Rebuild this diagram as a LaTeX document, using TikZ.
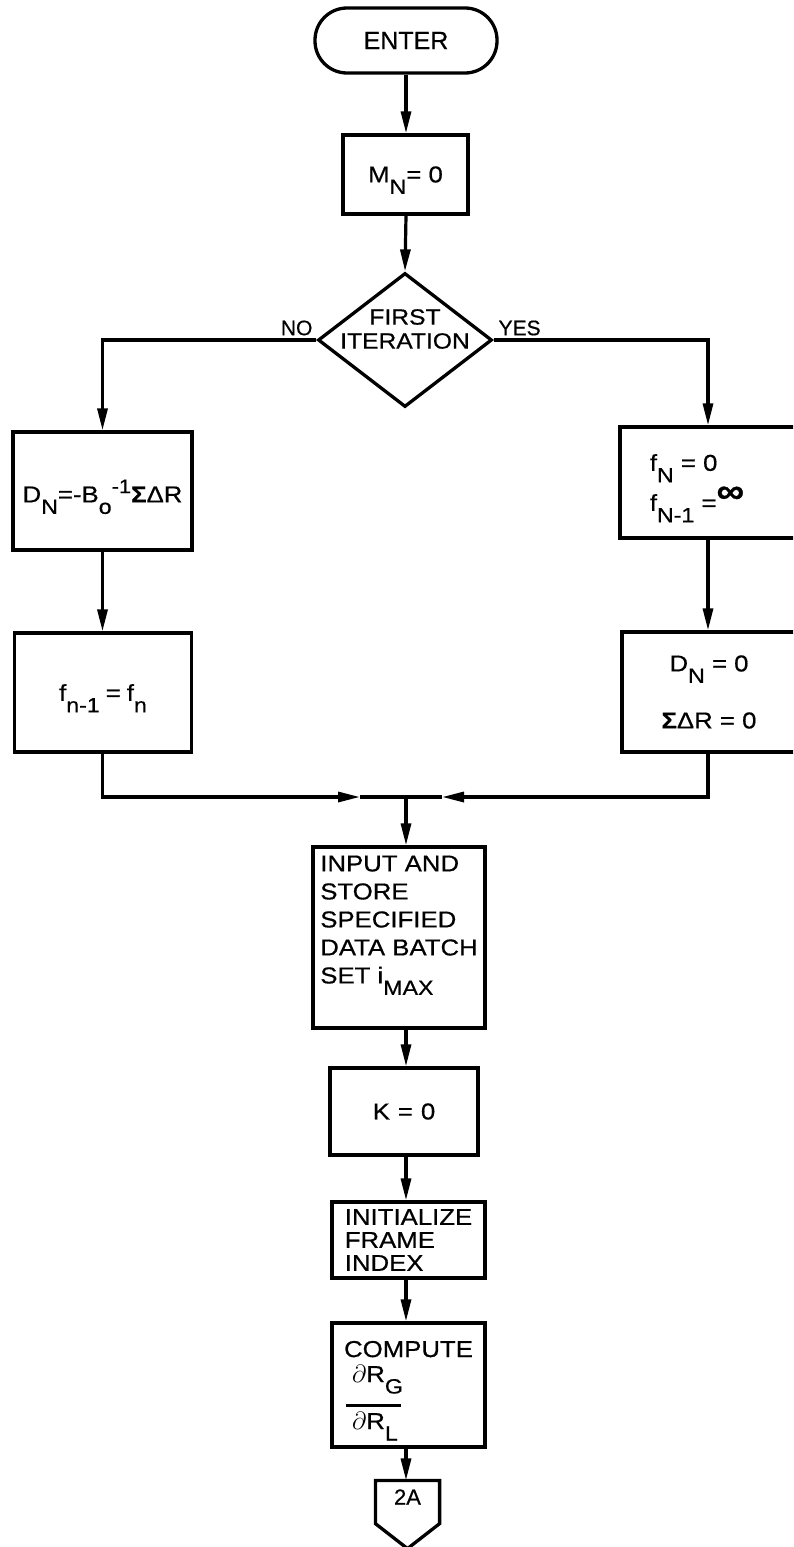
\documentclass[tikz,border=0pt]{standalone}
\usepackage{fontspec}
\usepackage{graphicx}
\setmainfont{Liberation Sans}
\newfontfamily\fa[FakeBold=0.6]{Liberation Sans}
\newfontfamily\fb[FakeStretch=1.12,FakeBold=0.6]{Liberation Sans}
\usetikzlibrary{arrows.meta,shapes.geometric}
\newcommand\dnsc[1]{\raisebox{-0.5em}[0pt][0pt]{\scalebox{0.9}{#1}}}
\newcommand\upsc[1]{\raisebox{0.4em}{\scalebox{0.85}{#1}}}
\begin{document}
\begin{tikzpicture}[x=1pt,y=-1pt,
  line width=3.2pt,
  box/.style={draw, line width=3.3pt, inner sep=0pt, align=center, font=\fb\fontsize{23}{26}\selectfont},
  arr/.style={-{Triangle[length=22pt,width=10pt]}},
  lab/.style={font=\fa\fontsize{21}{24}\selectfont, inner sep=0pt}]
\clip (0,0) rectangle (793,1547);
% nodes
\node[draw, line width=3.3pt, rounded corners=32pt, minimum width=182pt, minimum height=65pt, inner sep=0pt, font=\fa\fontsize{25}{28}\selectfont] (enter) at (406,40.5) {ENTER};
\node[box, minimum width=125pt, minimum height=79pt, font=\fb\fontsize{23}{26}\selectfont] (mn) at (405.5,174.5) {M\dnsc{N}= 0};
\node[draw, diamond, line width=3.3pt, shape aspect=1.3, minimum width=174pt, minimum height=134pt, inner sep=0pt] (dia) at (405,340) {};
\node[lab, font=\fb\fontsize{22}{24}\selectfont, align=center] (diat) at (405,329) {FIRST\\ITERATION};
\node[lab, anchor=south east] (no) at (314,337) {NO};
\node[lab, anchor=south west] (yes) at (497,337) {YES};
\node[box, minimum width=179pt, minimum height=118pt] (l1) at (102.5,491) {D\dnsc{N}=-B\dnsc{o}\upsc{-1}\textbf{Σ}ΔR};
\node[box, minimum width=177pt, minimum height=119pt] (l2) at (103,692.5) {f\dnsc{n-1}\hspace{6pt}=\hspace{6pt}f\dnsc{n}};
\node[box, minimum width=176pt, minimum height=111pt, align=left] (r1) at (708,482.5) {f\dnsc{N} = 0\\[14pt]f\dnsc{N-1} =\raisebox{0.35em}{\scalebox{1.5}{\textbf{∞}}}\hspace*{22pt}};
\node[box, minimum width=174pt, minimum height=120pt] (r2) at (709,692) {D\dnsc{N} = 0\\[31pt]\textbf{Σ}ΔR = 0};
\node[box, minimum width=172pt, minimum height=181pt, align=left, font=\fb\fontsize{23}{28}\selectfont] (inp) at (399,937.5) {INPUT AND\\STORE\\SPECIFIED\\DATA BATCH\\SET i\dnsc{MAX}\\[8pt]};
\node[box, minimum width=148pt, minimum height=87pt] (k) at (404,1111.5) {K\hspace{8pt}=\hspace{8pt}0};
\node[box, minimum width=153pt, minimum height=76pt, align=left, font=\fb\fontsize{23}{23}\selectfont] (init) at (408.5,1240) {INITIALIZE\\FRAME\\INDEX};
\node[box, minimum width=153pt, minimum height=124pt, align=left, font=\fb\fontsize{23}{25}\selectfont] (comp) at (408.5,1385) {COMPUTE\\\hspace*{8pt}$\partial$R\dnsc{G}\\[22pt]\hspace*{2pt}\rlap{\rule[22pt]{55pt}{3pt}}\hspace*{6pt}$\partial$R\dnsc{L}};
\node[lab, font=\fa\fontsize{22}{24}\selectfont, minimum width=61pt, minimum height=30pt] (con) at (407.5,1497) {2A};
\draw[line width=3.3pt] (con.north west) -- (con.north east) -- ([yshift=-10pt]con.south east) -- ([yshift=-35pt]con.south) -- ([yshift=-10pt]con.south west) -- cycle;
% connectors
\coordinate (mj) at (406,797);
\coordinate (ml) at (360,797);
\coordinate (mr) at (442,797);
\draw[arr] (enter.south -| mj) -- (mj |- mn.north);
\draw[arr] (mn.south -| mj) -- (dia.north);
\draw[arr] (dia.west) -- (dia.west -| l1) -- (l1.north);
\draw[arr] (dia.east) -- (dia.east -| r1) -- (r1.north);
\draw[arr] (l1.south) -- (l1.south |- l2.north);
\draw[arr] (r1.south) -- (r1.south |- r2.north);
\draw[arr] (l1.south |- l2.south) |- (ml);
\draw (ml) -- (mj);
\draw[arr] (r1.south |- r2.south) |- (mr);
\draw (mr) -- (mj);
\draw[arr] (mj) -- (mj |- inp.north);
\draw[arr] (inp.south -| mj) -- (mj |- k.north);
\draw[arr] (k.south -| mj) -- (mj |- init.north);
\draw[arr] (init.south -| mj) -- (mj |- comp.north);
\draw[arr] (comp.south -| mj) -- (mj |- con.north);
\end{tikzpicture}
\end{document}
